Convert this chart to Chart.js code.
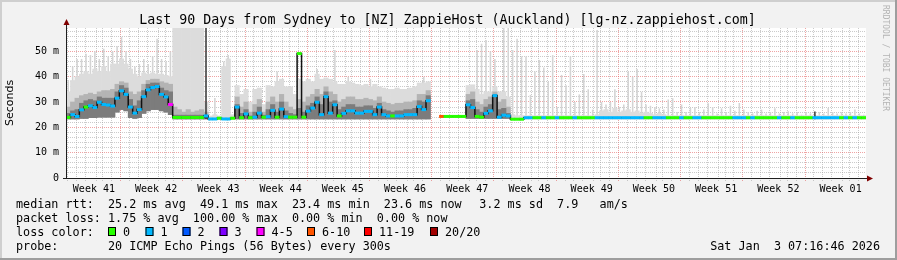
<!DOCTYPE html>
<html>
<head>
<meta charset="utf-8">
<script src="https://cdn.jsdelivr.net/npm/chart.js@4.4.1/dist/chart.umd.min.js"></script>
<style>
  html, body { margin: 0; padding: 0; background: #f2f2f2; }
  canvas { display: block; }
</style>
</head>
<body>
<canvas id="smoke" width="897" height="260"></canvas>
<script>
// one sample every 12 hours across the 90 day window (values in ms)
const STEP_DAYS = 0.5;

const median = [
  23.9, 25.0, 24.3, 26.9, 28.0, 28.5, 27.8, 29.9, 29.0, 28.8,   // 0
  28.4, 31.5, 34.4, 33.0, 28.0, 25.6, 27.0, 32.1, 34.8, 35.7,   // 10
  36.1, 33.0, 32.0, 29.0, 23.9, 23.9, 23.9, 23.9, 23.9, 23.9,   // 20
  23.9, 24.5, 23.3, 23.3, 23.6, 23.3, 23.3, 23.6, 28.0, 23.8,   // 30
  25.3, 23.8, 24.0, 25.6, 24.0, 24.2, 26.7, 24.0, 27.2, 24.2,   // 40
  24.0, 24.0, 49.1, 24.0, 26.4, 27.6, 29.9, 25.0, 32.1, 25.6,   // 50
  28.9, 24.5, 25.5, 26.5, 26.5, 25.6, 25.6, 26.3, 26.3, 25.0,   // 60
  28.0, 25.0, 24.5, 24.5, 24.5, 24.5, 25.0, 25.0, 25.0, 28.2,   // 70
  27.0, 30.5, null, null, 24.3, 24.3, 24.3, 24.3, 24.3, 24.3,   // 80
  28.9, 27.8, 24.3, 24.0, 25.5, 26.5, 32.5, 24.0, 24.8, 24.5,   // 90
  23.2, 23.2, 23.2, 23.8, 23.8, 23.8, 23.8, 23.8, 23.8, 23.8,   // 100
  23.8, 23.8, 23.8, 23.8, 23.8, 23.8, 23.8, 23.8, 23.8, 23.8,   // 110
  23.8, 23.8, 23.8, 23.8, 23.8, 23.8, 23.8, 23.8, 23.8, 23.8,   // 120
  23.8, 23.8, 23.8, 23.8, 23.8, 23.8, 23.8, 23.8, 23.8, 23.8,   // 130
  23.8, 23.8, 23.8, 23.8, 23.8, 23.8, 23.8, 23.8, 23.8, 23.8,   // 140
  23.8, 23.8, 23.8, 23.8, 23.8, 23.8, 23.8, 23.8, 23.8, 23.8,   // 150
  23.8, 23.8, 23.8, 23.8, 23.8, 23.8, 23.8, 23.8, 23.8, 23.8,   // 160
  23.8, 23.8, 23.8, 23.8, 23.8, 23.8, 23.8, 23.8, 23.8, 23.8    // 170
];

// lost pings out of 20 for each sample
const lostPings = [
  0, 1, 1, 1, 0, 1, 1, 1, 1, 1,   // 0
  1, 1, 1, 1, 1, 1, 1, 1, 1, 1,   // 10
  1, 1, 1, 4, 0, 0, 0, 0, 0, 0,   // 20
  0, 1, 1, 1, 0, 1, 1, 0, 1, 0,   // 30
  1, 0, 1, 1, 0, 1, 1, 0, 1, 1,   // 40
  0, 0, 0, 0, 1, 1, 1, 1, 1, 1,   // 50
  1, 0, 1, 1, 1, 1, 1, 1, 1, 1,   // 60
  1, 1, 1, 0, 1, 1, 1, 1, 1, 1,   // 70
  1, 1, null, null, 7, 0, 0, 0, 0, 0,   // 80
  1, 1, 0, 0, 1, 1, 1, 1, 1, 1,   // 90
  0, 0, 0, 1, 1, 0, 0, 1, 0, 0,   // 100
  1, 0, 0, 0, 1, 0, 0, 0, 0, 1,   // 110
  1, 1, 1, 1, 1, 1, 1, 1, 1, 1,   // 120
  0, 0, 1, 1, 1, 0, 0, 0, 1, 0,   // 130
  0, 1, 1, 0, 0, 0, 0, 0, 0, 0,   // 140
  1, 1, 1, 0, 1, 0, 0, 0, 0, 0,   // 150
  1, 0, 0, 1, 0, 0, 0, 0, 1, 1,   // 160
  1, 1, 1, 1, 0, 1, 0, 1, 0, 0    // 170
];

// bottom of the smoke (fastest ping)
const lowRtt = [
  23.3, 23.3, 23.3, 23.5, 23.5, 23.8, 23.8, 24.0, 24.0, 24.0,   // 0
  24.0, 26.0, 27.0, 26.5, 23.8, 23.5, 23.8, 25.5, 26.5, 27.0,   // 10
  27.0, 26.5, 26.0, 25.0, 23.3, 23.3, 23.3, 23.3, 23.3, 23.3,   // 20
  23.3, 23.3, 23.0, 23.0, 23.0, 23.0, 23.0, 23.0, 23.3, 23.3,   // 30
  23.3, 23.3, 23.3, 23.3, 23.3, 23.3, 23.3, 23.3, 23.3, 23.3,   // 40
  23.3, 23.3, 23.3, 23.3, 23.3, 23.3, 23.3, 23.3, 23.3, 23.3,   // 50
  23.3, 23.3, 23.3, 23.3, 23.3, 23.3, 23.3, 23.3, 23.3, 23.3,   // 60
  23.3, 23.3, 23.3, 23.3, 23.3, 23.3, 23.3, 23.3, 23.3, 23.3,   // 70
  23.3, 23.3, null, null, 23.8, 23.8, 23.8, 23.8, 23.8, 23.8,   // 80
  23.5, 23.5, 23.5, 23.5, 23.5, 23.5, 23.5, 23.5, 23.5, 23.5,   // 90
  23.2, 23.2, 23.2, 23.2, 23.2, 23.2, 23.2, 23.2, 23.2, 23.2,   // 100
  23.2, 23.2, 23.2, 23.2, 23.2, 23.2, 23.2, 23.2, 23.2, 23.2,   // 110
  23.2, 23.2, 23.2, 23.2, 23.2, 23.2, 23.2, 23.2, 23.2, 23.2,   // 120
  23.2, 23.2, 23.2, 23.2, 23.2, 23.2, 23.2, 23.2, 23.2, 23.2,   // 130
  23.2, 23.2, 23.2, 23.2, 23.2, 23.2, 23.2, 23.2, 23.2, 23.2,   // 140
  23.2, 23.2, 23.2, 23.2, 23.2, 23.2, 23.2, 23.2, 23.2, 23.2,   // 150
  23.2, 23.2, 23.2, 23.2, 23.2, 23.2, 23.2, 23.2, 23.2, 23.2,   // 160
  23.2, 23.2, 23.2, 23.2, 23.2, 23.2, 23.2, 23.2, 23.2, 23.2    // 170
];

// top of the light outer smoke
const smokeOuter = [
  34.0, 38.5, 40.0, 41.0, 42.0, 41.0, 43.0, 42.0, 44.0, 42.0,   // 0
  45.0, 45.0, 47.0, 45.0, 43.0, 41.0, 40.0, 41.5, 41.0, 41.5,   // 10
  41.0, 41.0, 40.5, 40.0, 60.0, 60.0, 60.0, 60.0, 60.0, 60.0,   // 20
  60.0, 30.0, 24.5, 25.0, 24.5, 44.0, 47.0, 25.0, 36.5, 33.0,   // 30
  35.0, 30.0, 35.0, 35.5, 29.0, 36.5, 36.0, 38.0, 39.0, 36.0,   // 40
  36.0, 33.0, 39.0, 38.0, 39.0, 38.0, 41.0, 39.0, 39.5, 39.0,   // 50
  38.0, 37.0, 37.0, 38.0, 37.5, 37.0, 36.5, 37.0, 36.0, 37.0,   // 60
  36.0, 35.5, 35.0, 35.0, 35.5, 35.0, 35.0, 35.5, 36.0, 37.5,   // 70
  37.5, 38.0, null, null, 24.6, 24.6, 24.6, 24.6, 24.6, 24.6,   // 80
  36.5, 36.8, 35.0, 33.0, 34.0, 34.0, 36.0, 34.0, 34.0, 32.0,   // 90
  25.0, 24.6, 24.6, 24.6, 24.6, 24.6, 24.6, 24.6, 24.6, 24.6,   // 100
  24.6, 24.6, 24.6, 24.6, 24.6, 24.6, 24.6, 24.6, 24.6, 25.0,   // 110
  26.5, 27.0, 26.0, 27.5, 26.0, 26.5, 27.0, 26.0, 26.5, 25.5,   // 120
  26.0, 25.5, 25.0, 25.5, 25.0, 24.6, 24.6, 24.6, 24.6, 24.6,   // 130
  24.6, 24.6, 24.6, 24.6, 24.6, 24.6, 24.6, 24.6, 24.6, 24.6,   // 140
  24.6, 24.6, 24.6, 24.6, 24.6, 24.6, 24.6, 24.6, 24.6, 24.6,   // 150
  24.6, 24.6, 24.6, 24.6, 24.6, 24.6, 24.6, 24.6, 24.6, 24.6,   // 160
  24.6, 24.6, 24.6, 24.6, 24.6, 24.6, 24.6, 24.6, 24.6, 24.6    // 170
];

// top of the medium grey smoke
const smokeMid = [
  28.0, 30.0, 31.5, 32.5, 33.0, 33.5, 33.0, 34.0, 34.5, 34.5,   // 0
  35.0, 37.0, 38.0, 37.5, 34.0, 33.0, 34.0, 37.0, 38.5, 39.0,   // 10
  39.0, 38.0, 37.5, 37.0, 28.0, 27.0, 26.0, 27.0, 26.0, 26.5,   // 20
  27.0, 26.0, null, null, null, null, null, null, 32.0, 28.0,   // 30
  30.0, 26.0, 29.0, 31.0, 26.0, 30.0, 32.0, 30.0, 33.0, 30.0,   // 40
  28.0, 27.0, 31.0, 30.0, 32.0, 33.0, 35.0, 33.0, 36.0, 34.0,   // 50
  33.0, 30.0, 31.0, 32.0, 32.0, 31.0, 31.0, 31.5, 31.0, 30.5,   // 60
  32.0, 30.0, 29.5, 29.0, 29.5, 29.5, 30.0, 30.0, 30.5, 33.0,   // 70
  33.0, 34.5, null, null, null, null, null, null, null, null,   // 80
  33.0, 34.0, 30.0, 29.0, 31.0, 32.0, 34.0, 30.0, 31.0, 28.0    // 90
];

// top of the dark inner smoke
const smokeInner = [
  25.5, 26.5, 27.0, 29.5, 30.5, 31.0, 30.5, 32.0, 31.5, 31.5,   // 0
  31.5, 34.0, 36.5, 35.5, 31.0, 28.5, 30.5, 34.5, 37.0, 37.5,   // 10
  37.5, 35.5, 34.5, 34.0, 24.8, 24.8, 24.8, 24.8, 24.8, 24.8,   // 20
  24.8, 24.8, null, null, null, null, null, null, 29.0, 25.5,   // 30
  27.0, 24.5, 26.0, 28.0, 24.8, 27.0, 29.0, 26.0, 30.0, 26.5,   // 40
  25.5, 25.0, 27.5, 26.0, 28.5, 29.5, 32.0, 29.0, 34.0, 30.0,   // 50
  30.5, 27.0, 28.0, 29.0, 29.0, 28.0, 28.0, 28.5, 28.5, 27.5,   // 60
  29.5, 27.0, 26.5, 26.0, 26.5, 26.5, 27.0, 27.0, 27.5, 30.5,   // 70
  30.0, 32.5, null, null, null, null, null, null, null, null,   // 80
  30.5, 31.0, 27.0, 26.0, 28.0, 29.0, 33.0, 27.0, 27.5, 25.5    // 90
];

// single slow pings that stick out of the smoke
const spikes = [
  38.7, 44.0, 47.0, 47.0, 49.0, 48.5, 50.0, 47.0, 51.0, 48.0,   // 0
  50.0, 52.0, 55.7, 50.0, 47.0, 44.0, 45.0, 47.0, 45.0, 48.0,   // 10
  55.0, 47.0, 46.0, 50.0, null, null, null, null, null, null,   // 20
  null, null, null, 31.6, null, 46.0, 48.5, null, null, null,   // 30
  null, null, null, null, null, null, null, 42.0, null, null,   // 40
  null, null, null, null, null, null, 43.0, null, null, null,   // 50
  50.5, null, null, 40.0, null, null, null, null, 39.0, null,   // 60
  null, null, null, null, null, null, null, null, null, null,   // 70
  40.0, null, null, null, null, null, null, null, null, null,   // 80
  null, null, 50.5, 53.0, 54.5, 50.0, 47.0, null, 60.0, 60.0,   // 90
  50.5, 55.0, 48.0, 48.0, 32.8, 42.0, 46.6, 43.6, 38.0, 48.5,   // 100
  28.0, 40.7, 36.6, 48.0, 30.0, 33.0, 41.0, 35.0, 27.0, 58.4,   // 110
  30.0, 29.0, 30.0, 35.0, 28.0, 29.0, 42.0, 40.0, 43.0, 34.0,   // 120
  29.0, 28.5, 28.0, 27.5, 27.0, 31.0, 31.5, 26.0, 29.0, 26.0,   // 130
  27.6, 28.0, 26.0, 27.0, 29.5, 28.0, 25.5, 27.5, 26.0, 28.5,   // 140
  26.5, 29.6, 27.0, 26.0, 25.5, 26.5, 27.0, 25.5, 26.0, 27.5,   // 150
  25.5, 26.0, 26.3, 25.5, 26.0, 25.0, 26.0, 25.5, null, 26.0,   // 160
  25.5, 27.6, 26.0, 25.5, 26.0, 25.5, 26.0, 27.0, 25.5, 25.0    // 170
];

// the two dark single-sample streaks
const darkSpikeIdx = [31, 168];
const darkSpikeVal = [59.2, 26.2];

const weekLabels = ['Week 41', 'Week 42', 'Week 43', 'Week 44', 'Week 45', 'Week 46', 'Week 47',
                    'Week 48', 'Week 49', 'Week 50', 'Week 51', 'Week 52', 'Week 01'];
const FIRST_MONDAY = 6.64;   // days from the left edge to the first week boundary
const DAYS = 90;
const Y_MAX = 59.2;

const lossBins = [
  { label: '0', max: 0, color: '#26ff00' },
  { label: '1', max: 1, color: '#00b8ff' },
  { label: '2', max: 2, color: '#0059ff' },
  { label: '3', max: 3, color: '#7e00ff' },
  { label: '4-5', max: 5, color: '#ff00ff' },
  { label: '6-10', max: 10, color: '#ff5500' },
  { label: '11-19', max: 19, color: '#ff0000' },
  { label: '20/20', max: 20, color: '#a10000' }
];

const rttLine = 'median rtt:  25.2 ms avg  49.1 ms max  23.4 ms min  23.6 ms now';
const rttExtra = '3.2 ms sd  7.9   am/s';
const lossLine = 'packet loss: 1.75 % avg  100.00 % max  0.00 % min  0.00 % now';
const titleText = 'Last 90 Days from Sydney to [NZ] ZappieHost (Auckland) [lg-nz.zappiehost.com]';
const probeLine = 'probe:       20 ICMP Echo Pings (56 Bytes) every 300s';
const stampText = 'Sat Jan  3 07:16:46 2026';

const MONO = '"DejaVu Sans Mono", monospace';
const GRID = 'rgba(160,160,160,0.55)';
const MGRID = 'rgba(225,90,90,0.55)';

const dayAt = i => STEP_DAYS / 2 + i * STEP_DAYS;
const lossColor = n => {
  if (n == null) return 'rgba(0,0,0,0)';
  for (const b of lossBins) if (n <= b.max) return b.color;
  return lossBins[lossBins.length - 1].color;
};
const floating = tops => tops.map((v, i) => ({
  x: dayAt(i),
  y: (v == null || lowRtt[i] == null) ? null : [lowRtt[i], v]
}));
const darkSpikes = darkSpikeIdx.map((i, k) => ({ x: dayAt(i), y: [lowRtt[i], darkSpikeVal[k]] }));

const weekIndexAt = v => {
  const k = (v - (FIRST_MONDAY - 3.5)) / 7;
  return Math.abs(k - Math.round(k)) < 1e-6 ? Math.round(k) : -1;
};
const isWeekStart = v => {
  const k = (v - FIRST_MONDAY) / 7;
  return Math.abs(k - Math.round(k)) < 1e-6;
};

const smokeBar = (data, color, order, pct) => ({
  type: 'bar',
  data,
  backgroundColor: color,
  borderWidth: 0,
  grouped: false,
  categoryPercentage: 1,
  barPercentage: pct,
  order
});

// background, frame, axes with arrows and all the rrdtool text
const rrdFrame = {
  id: 'rrdFrame',
  beforeDraw(chart) {
    const { ctx, chartArea: a, width, height } = chart;
    ctx.save();
    ctx.fillStyle = '#f2f2f2';
    ctx.fillRect(0, 0, width, height);
    ctx.fillStyle = '#cfcfcf';
    ctx.fillRect(0, 0, width, 2);
    ctx.fillRect(0, 0, 2, height);
    ctx.fillStyle = '#9e9e9e';
    ctx.fillRect(0, height - 2, width, 2);
    ctx.fillRect(width - 2, 0, 2, height);
    ctx.fillStyle = '#ffffff';
    ctx.fillRect(a.left, a.top, a.right - a.left, a.bottom - a.top);
    ctx.restore();
  },
  afterDraw(chart) {
    const { ctx, chartArea: a, width } = chart;
    ctx.save();
    // axes
    ctx.strokeStyle = '#1f1f1f';
    ctx.lineWidth = 1;
    ctx.beginPath();
    ctx.moveTo(a.left + 0.5, a.bottom + 1);
    ctx.lineTo(a.left + 0.5, a.top - 5);
    ctx.moveTo(a.left - 3, a.bottom + 0.5);
    ctx.lineTo(a.right + 2, a.bottom + 0.5);
    ctx.stroke();
    ctx.fillStyle = '#800000';
    ctx.beginPath();
    ctx.moveTo(a.left + 0.5, a.top - 9);
    ctx.lineTo(a.left - 2.5, a.top - 3);
    ctx.lineTo(a.left + 3.5, a.top - 3);
    ctx.closePath();
    ctx.fill();
    ctx.beginPath();
    ctx.moveTo(a.right + 7, a.bottom + 0.5);
    ctx.lineTo(a.right + 1, a.bottom - 2.5);
    ctx.lineTo(a.right + 1, a.bottom + 3.5);
    ctx.closePath();
    ctx.fill();

    // title
    ctx.fillStyle = '#000';
    ctx.font = '13.3px ' + MONO;
    ctx.textAlign = 'center';
    ctx.textBaseline = 'alphabetic';
    ctx.fillText(titleText, 447.5, 23.5);

    // statistics
    ctx.font = '11.75px ' + MONO;
    ctx.textAlign = 'left';
    ctx.fillText(rttLine, 16, 207.5);
    ctx.fillText(rttExtra, 479.3, 207.5);
    ctx.fillText(lossLine, 16, 221.5);
    ctx.fillText('loss color:', 16, 235.5);
    const boxX = [108, 145.5, 182.5, 219.5, 256.5, 307, 364, 430];
    lossBins.forEach((b, k) => {
      ctx.fillStyle = b.color;
      ctx.fillRect(boxX[k], 227, 8, 9);
      ctx.strokeStyle = '#000';
      ctx.strokeRect(boxX[k] + 0.5, 227.5, 7, 8);
      ctx.fillStyle = '#000';
      ctx.fillText(b.label, boxX[k] + 15, 235.5);
    });
    ctx.fillText(probeLine, 16, 249.5);
    ctx.textAlign = 'right';
    ctx.fillText(stampText, 880, 249.5);

    // vertical watermark
    ctx.translate(width - 12, 5);
    ctx.rotate(Math.PI / 2);
    ctx.font = '8px ' + MONO;
    ctx.fillStyle = '#b4b4b4';
    ctx.textAlign = 'left';
    ctx.textBaseline = 'middle';
    ctx.fillText('RRDTOOL / TOBI OETIKER', 0, 0);
    ctx.restore();
  }
};

new Chart(document.getElementById('smoke'), {
  type: 'bar',
  data: {
    datasets: [
      {
        type: 'line',
        data: median.map((v, i) => ({ x: dayAt(i), y: v })),
        borderColor: '#111',
        borderWidth: 1.5,
        stepped: 'middle',
        spanGaps: false,
        pointStyle: 'line',
        pointRadius: 2.4,
        pointHoverRadius: 2.4,
        pointBorderWidth: 3,
        pointBorderColor: c => lossColor(lostPings[c.dataIndex]),
        pointBackgroundColor: c => lossColor(lostPings[c.dataIndex]),
        order: 0
      },
      smokeBar(darkSpikes, '#3a3a3a', 1, 0.35),
      smokeBar(floating(smokeInner), '#7c7c7c', 2, 1),
      smokeBar(floating(smokeMid), '#b4b4b4', 3, 1),
      smokeBar(floating(smokeOuter), '#dcdcdc', 4, 1),
      smokeBar(floating(spikes), '#d4d4d4', 5, 0.35)
    ]
  },
  options: {
    responsive: false,
    animation: false,
    devicePixelRatio: 1,
    layout: { padding: { left: 0, right: 31, top: 28, bottom: 62 } },
    plugins: { legend: { display: false }, tooltip: { enabled: false } },
    scales: {
      x: {
        type: 'linear',
        min: 0,
        max: DAYS,
        offset: false,
        afterFit: s => { s.height = 20; },
        afterBuildTicks: s => {
          const t = [];
          for (let k = 0; k < DAYS; k++) t.push({ value: FIRST_MONDAY - 6 + k });
          weekLabels.forEach((w, k) => t.push({ value: FIRST_MONDAY - 3.5 + 7 * k }));
          t.sort((p, q) => p.value - q.value);
          s.ticks = t;
        },
        ticks: {
          autoSkip: false,
          maxRotation: 0,
          minRotation: 0,
          padding: 2,
          color: '#000',
          font: { family: MONO, size: 10 },
          callback: v => { const k = weekIndexAt(v); return k >= 0 ? weekLabels[k] : ''; }
        },
        grid: {
          drawTicks: true,
          tickLength: 3,
          lineWidth: 1,
          tickBorderDash: [1, 1],
          color: c => {
            const v = c.tick ? c.tick.value : 0;
            if (weekIndexAt(v) >= 0) return 'rgba(0,0,0,0)';
            return isWeekStart(v) ? MGRID : GRID;
          }
        },
        border: { display: false, dash: [1, 1] }
      },
      y: {
        min: 0,
        max: Y_MAX,
        afterFit: s => { s.width = 66; },
        afterBuildTicks: s => {
          const t = [];
          for (let v = 0; v < Y_MAX - 1; v += 2) t.push({ value: v });
          s.ticks = t;
        },
        ticks: {
          autoSkip: false,
          padding: 7,
          color: '#000',
          font: { family: MONO, size: 10 },
          callback: v => (v % 10 === 0 ? (v === 0 ? '0' : v + ' m') : '')
        },
        grid: {
          drawTicks: false,
          lineWidth: 1,
          color: c => ((c.tick && c.tick.value % 10 === 0) ? MGRID : GRID)
        },
        border: { display: false, dash: [1, 1] },
        title: {
          display: true,
          text: 'Seconds',
          color: '#000',
          font: { family: '"DejaVu Sans", sans-serif', size: 11 },
          padding: { top: 4, bottom: 0 }
        }
      }
    }
  },
  plugins: [rrdFrame]
});
</script>
</body>
</html>
